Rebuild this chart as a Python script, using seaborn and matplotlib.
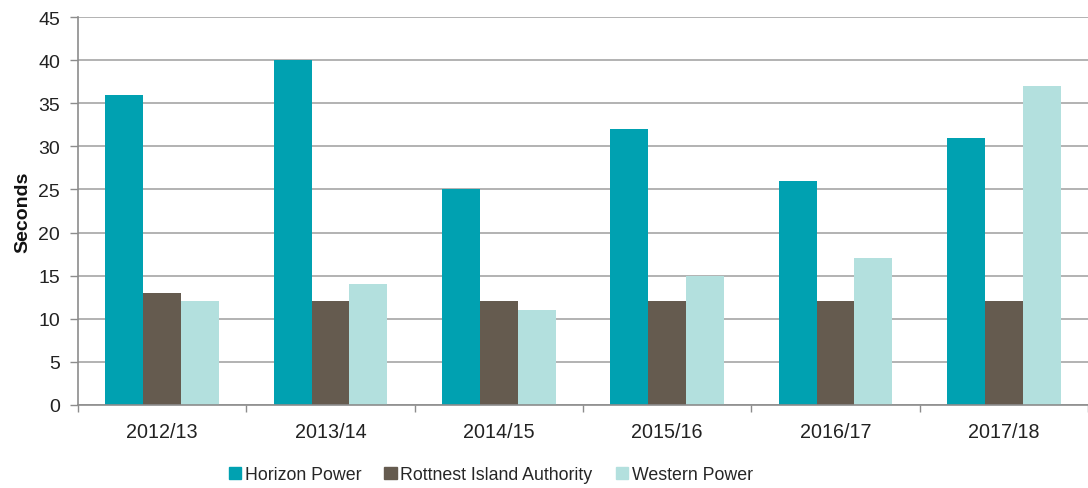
import numpy as np
import pandas as pd
import seaborn as sns
import matplotlib.pyplot as plt

years = ['2012/13', '2013/14', '2014/15', '2015/16', '2016/17', '2017/18']
horizon = [36, 40, 25, 32, 26, 31]
rottnest = [13, 12, 12, 12, 12, 12]
western = [12, 14, 11, 15, 17, 37]
series = ['Horizon Power', 'Rottnest Island Authority', 'Western Power']
colors = ['#00A1B1', '#655B4F', '#B3E0DE']

df = pd.DataFrame({'Year': years * 3,
                   'Seconds': horizon + rottnest + western,
                   'Series': [s for s in series for _ in years]})

sns.set_style('white')
plt.rcParams['font.family'] = ['Liberation Sans', 'DejaVu Sans']

fig = plt.figure(figsize=(10.88, 4.89), dpi=100)
ax = fig.add_axes([0.0717, 0.170, 0.9283, 0.793])

sns.barplot(data=df, x='Year', y='Seconds', hue='Series', palette=colors,
            width=0.675, gap=0, saturation=1, ax=ax, linewidth=0)

# --- axes styling ---
ax.set_ylim(0, 45)
ax.set_yticks(range(0, 46, 5))
ax.set_xlim(-0.5, len(years) - 0.5)
ax.yaxis.grid(True, color='#A6A6A6', linewidth=1.2)
ax.set_axisbelow(True)
for side in ['top', 'right']:
    ax.spines[side].set_visible(False)
for side in ['left', 'bottom']:
    ax.spines[side].set_color('#8C8C8C')
    ax.spines[side].set_linewidth(1.2)

ax.set_xticks(np.arange(-0.5, len(years), 1.0), minor=True)
ax.tick_params(axis='x', which='major', length=0, labelsize=14.2, colors='#222222', pad=12)
ax.tick_params(axis='x', which='minor', length=5, width=1, color='#8C8C8C', direction='out', bottom=True)
ax.tick_params(axis='y', length=6, width=1, color='#8C8C8C', labelsize=14, labelcolor='#222222', left=True, pad=7)

ax.set_xlabel('')
ax.set_ylabel('Seconds', fontsize=14, fontweight='bold', color='#111111', labelpad=5)

# --- legend below the plot ---
ax.get_legend().remove()
handles = [plt.Rectangle((0, 0), 1, 1, color=c) for c in colors]
fig.legend(handles, series, loc='center', bbox_to_anchor=(0.451, 0.027), ncol=3,
           frameon=False, fontsize=12.8, handlelength=0.7, handleheight=0.7,
           handletextpad=0.2, columnspacing=1.3)

fig.savefig('out.png', dpi=100)
